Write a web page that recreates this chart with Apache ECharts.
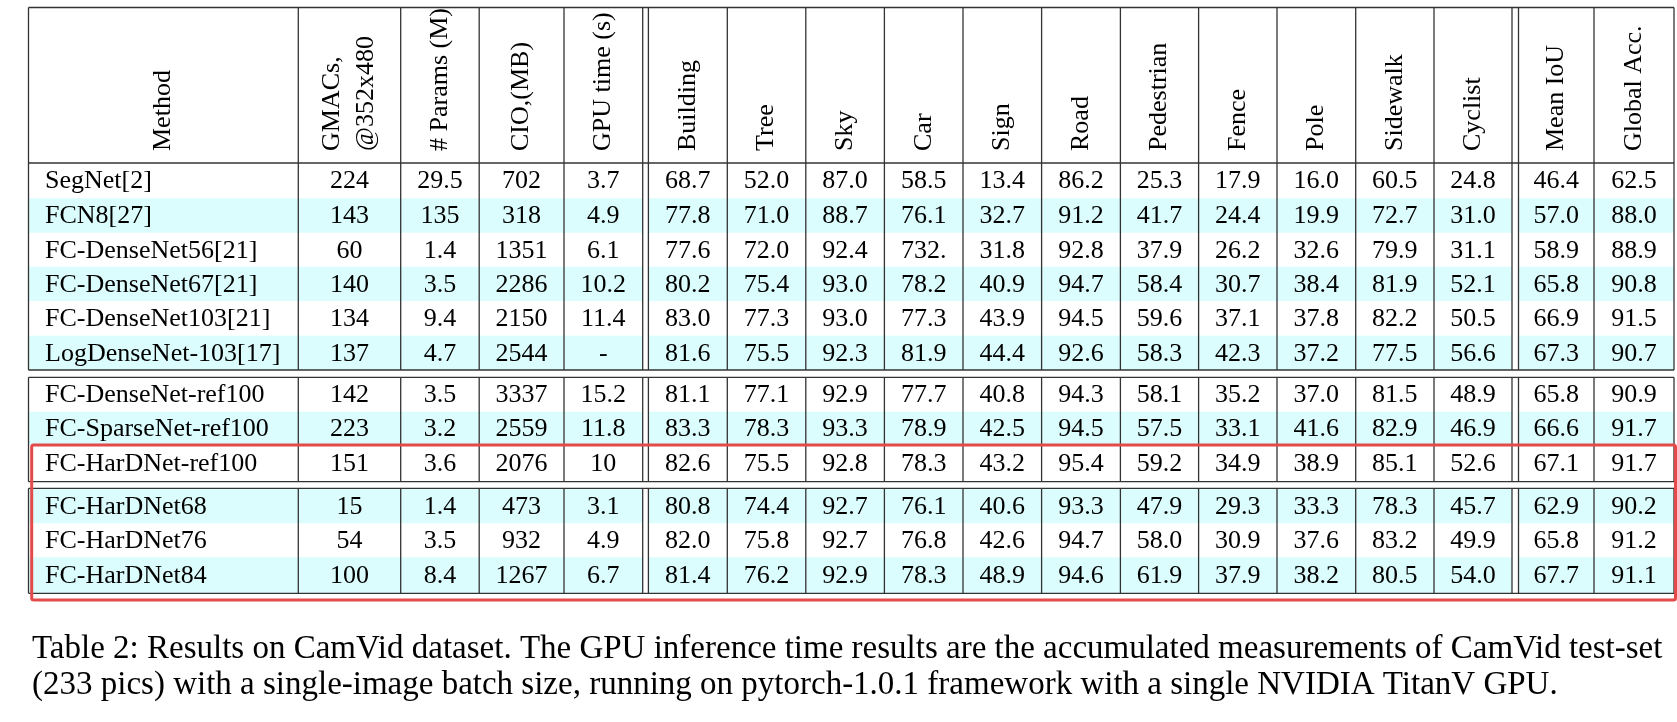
<!DOCTYPE html>
<html><head><meta charset="utf-8">
<script src="https://cdn.jsdelivr.net/npm/echarts@6/dist/echarts.min.js"></script>
<style>html,body{margin:0;padding:0;background:#fff}#c{width:1677px;height:722px}</style>
</head><body><div id="c"></div>
<script>
// ---------- DATA ----------
const headers = ["Method","GMACs,\n@352x480","# Params (M)","CIO,(MB)","GPU time (s)","Building","Tree","Sky","Car","Sign","Road","Pedestrian","Fence","Pole","Sidewalk","Cyclist","Mean IoU","Global Acc."];
const methods = ["SegNet[2]","FCN8[27]","FC-DenseNet56[21]","FC-DenseNet67[21]","FC-DenseNet103[21]","LogDenseNet-103[17]","FC-DenseNet-ref100","FC-SparseNet-ref100","FC-HarDNet-ref100","FC-HarDNet68","FC-HarDNet76","FC-HarDNet84"];
const gmacs = ["224","143","60","140","134","137","142","223","151","15","54","100"];
const paramsM = ["29.5","135","1.4","3.5","9.4","4.7","3.5","3.2","3.6","1.4","3.5","8.4"];
const cioMB = ["702","318","1351","2286","2150","2544","3337","2559","2076","473","932","1267"];
const gpuTime = ["3.7","4.9","6.1","10.2","11.4","-","15.2","11.8","10","3.1","4.9","6.7"];
const building = ["68.7","77.8","77.6","80.2","83.0","81.6","81.1","83.3","82.6","80.8","82.0","81.4"];
const tree = ["52.0","71.0","72.0","75.4","77.3","75.5","77.1","78.3","75.5","74.4","75.8","76.2"];
const sky = ["87.0","88.7","92.4","93.0","93.0","92.3","92.9","93.3","92.8","92.7","92.7","92.9"];
const car = ["58.5","76.1","732.","78.2","77.3","81.9","77.7","78.9","78.3","76.1","76.8","78.3"];
const sign = ["13.4","32.7","31.8","40.9","43.9","44.4","40.8","42.5","43.2","40.6","42.6","48.9"];
const road = ["86.2","91.2","92.8","94.7","94.5","92.6","94.3","94.5","95.4","93.3","94.7","94.6"];
const pedestrian = ["25.3","41.7","37.9","58.4","59.6","58.3","58.1","57.5","59.2","47.9","58.0","61.9"];
const fence = ["17.9","24.4","26.2","30.7","37.1","42.3","35.2","33.1","34.9","29.3","30.9","37.9"];
const pole = ["16.0","19.9","32.6","38.4","37.8","37.2","37.0","41.6","38.9","33.3","37.6","38.2"];
const sidewalk = ["60.5","72.7","79.9","81.9","82.2","77.5","81.5","82.9","85.1","78.3","83.2","80.5"];
const cyclist = ["24.8","31.0","31.1","52.1","50.5","56.6","48.9","46.9","52.6","45.7","49.9","54.0"];
const meanIoU = ["46.4","57.0","58.9","65.8","66.9","67.3","65.8","66.6","67.1","62.9","65.8","67.7"];
const globalAcc = ["62.5","88.0","88.9","90.8","91.5","90.7","90.9","91.7","91.7","90.2","91.2","91.1"];
const caption = [
  "Table 2: Results on CamVid dataset. The GPU inference time results are the accumulated measurements of CamVid test-set",
  "(233 pics) with a single-image batch size, running on pytorch-1.0.1 framework with a single NVIDIA TitanV GPU."
];

// ---------- LAYOUT ----------
const columns = [methods,gmacs,paramsM,cioMB,gpuTime,building,tree,sky,car,sign,road,pedestrian,fence,pole,sidewalk,cyclist,meanIoU,globalAcc];
const colEdges = [[28.5,298.3],[298.3,400.7],[400.7,479.2],[479.2,564],[564,642.7],[648.4,727.3],[727.3,805.8],[805.8,884.4],[884.4,963],[963,1041.6],[1041.6,1120.4],[1120.4,1198.6],[1198.6,1277],[1277,1355.7],[1355.7,1434],[1434,1512],[1518.5,1594],[1594,1674]];
const rowEdges = [[163,198.3],[198.3,232.7],[232.7,266.7],[266.7,301],[301,335.7],[335.7,370],[377.3,411.7],[411.7,445],[445,481.7],[488.3,523.3],[523.3,557.3],[557.3,593.3]];
const headerBox = [7.5,163];
const headerTextBottom = 151;
const groups = [[7.5,370],[377.3,481.7],[488.3,593.3]];
const hLines = [7.5,163,370,377.3,481.7,488.3,593.3];
const highlightBox = [31.7,445,1675.5,600];
const stripeColor = '#dcfdfd';
const lineColor = '#333';
const FONT = "'Liberation Serif','Times New Roman',serif";

const vx = [];
colEdges.forEach(e => { if (!vx.includes(e[0])) vx.push(e[0]); if (!vx.includes(e[1])) vx.push(e[1]); });
const ruleData = [];
groups.forEach(g => vx.forEach(x => ruleData.push([x, g[0], x, g[1]])));
hLines.forEach(y => ruleData.push([colEdges[0][0], y, colEdges[colEdges.length-1][1], y]));

const cellData = [];
for (let r = 0; r < methods.length; r++) for (let c = 0; c < columns.length; c++) cellData.push([c, r]);

const chart = echarts.init(document.getElementById('c'), null, {renderer:'canvas'});
chart.setOption({
  animation:false,
  title:{text:caption.join('\n'), left:27, top:626,
    textStyle:{fontFamily:FONT, fontSize:33, fontWeight:'normal', color:'#000', lineHeight:36}},
  grid:{left:0,right:0,top:0,bottom:0},
  xAxis:{type:'value',min:0,max:1677,show:false},
  yAxis:{type:'value',min:0,max:722,inverse:true,show:false},
  series:[
    { type:'custom', data:cellData, z:1, clip:false,
      renderItem:function(p, api){
        const c = api.value(0), r = api.value(1);
        const a = api.coord([colEdges[c][0], rowEdges[r][0]]);
        const b = api.coord([colEdges[c][1], rowEdges[r][1]]);
        const ch = [];
        if (r % 2 === 1) ch.push({type:'rect', shape:{x:a[0],y:a[1],width:b[0]-a[0],height:b[1]-a[1]}, style:{fill:stripeColor}});
        ch.push({type:'text', style:{text:columns[c][r], x: c===0 ? a[0]+16.5 : (a[0]+b[0])/2, y:(a[1]+b[1])/2+1,
          align: c===0 ? 'left':'center', verticalAlign:'middle', fontFamily:FONT, fontSize:26, fill:'#000'}});
        return {type:'group', children:ch};
      }},
    { type:'custom', data:headers.map((h,i)=>[i]), z:2, clip:false,
      renderItem:function(p, api){
        const c = api.value(0);
        const a = api.coord([(colEdges[c][0]+colEdges[c][1])/2, headerTextBottom]);
        return {type:'text', x:a[0], y:a[1], rotation:Math.PI/2,
          style:{text:headers[c], x:0, y:0, align:'left', verticalAlign:'middle', fontFamily:FONT, fontSize:26, lineHeight:34, fill:'#000'}};
      }},
    { type:'custom', data:ruleData, z:3, clip:false,
      renderItem:function(p, api){
        const a = api.coord([api.value(0), api.value(1)]);
        const b = api.coord([api.value(2), api.value(3)]);
        return {type:'line', shape:{x1:a[0],y1:a[1],x2:b[0],y2:b[1]}, style:{stroke:lineColor, lineWidth:1.3}};
      }},
    { type:'custom', data:[highlightBox], z:4, clip:false,
      renderItem:function(p, api){
        const a = api.coord([api.value(0), api.value(1)]);
        const b = api.coord([api.value(2), api.value(3)]);
        return {type:'rect', shape:{x:a[0],y:a[1],width:b[0]-a[0],height:b[1]-a[1], r:2}, style:{fill:'none', stroke:'#e34b4b', lineWidth:3}};
      }}
  ]
});
</script></body></html>
